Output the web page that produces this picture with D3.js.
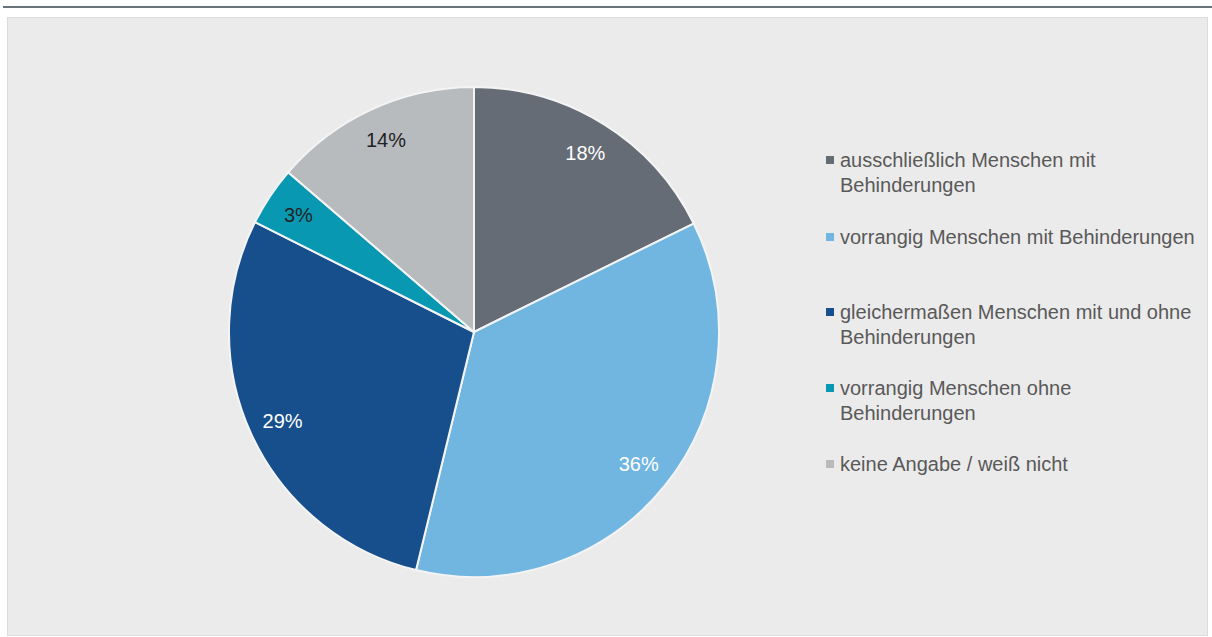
<!DOCTYPE html>
<html>
<head>
<meta charset="utf-8">
<script src="https://cdn.jsdelivr.net/npm/d3@7"></script>
<style>
  body { margin: 0; background: #fff; }
  svg { display: block; font-family: "Liberation Sans", Arial, sans-serif; }
</style>
</head>
<body>
<div id="chart"></div>
<script>
var categories = [
  ["ausschließlich Menschen mit", "Behinderungen"],
  ["vorrangig Menschen mit Behinderungen"],
  ["gleichermaßen Menschen mit und ohne", "Behinderungen"],
  ["vorrangig Menschen ohne", "Behinderungen"],
  ["keine Angabe / weiß nicht"]
];
// slice sizes (percent)
var values = [17.7, 36.1, 28.6, 3.9, 13.7];
var labels = ["18%", "36%", "29%", "3%", "14%"];
var colors = ["#656c76", "#71b6e1", "#164f8c", "#0898b2", "#b7bbbe"];
var labelColors = ["#fff", "#fff", "#fff", "#222", "#222"];

var width = 1212,
    height = 637;

var svg = d3.select("#chart")
  .append("svg")
    .attr("width", width)
    .attr("height", height);

// top rule
svg.append("rect")
  .attr("x", 3).attr("y", 6)
  .attr("width", width - 3).attr("height", 2)
  .attr("fill", "#67727a");

// panel
svg.append("rect")
  .attr("x", 7.5).attr("y", 17.5)
  .attr("width", 1200).attr("height", 618)
  .attr("fill", "#ebebeb")
  .attr("stroke", "#dcdcdc");

var cx = 474, cy = 332, radius = 245;

var g = svg.append("g")
  .attr("transform", "translate(" + cx + "," + cy + ")");

var pie = d3.pie()
  .sort(null)
  .value(function(d) { return d; });
var data_ready = pie(values);

var arc = d3.arc().innerRadius(0).outerRadius(radius);
var labelArc = d3.arc().innerRadius(211).outerRadius(211);

g.selectAll("path.slice")
  .data(data_ready)
  .enter()
  .append("path")
  .attr("class", "slice")
  .attr("d", arc)
  .attr("fill", function(d, i) { return colors[i]; })
  .attr("stroke", "#f4f4f4")
  .style("stroke-width", "2px");

g.selectAll("text.lbl")
  .data(data_ready)
  .enter()
  .append("text")
  .attr("class", "lbl")
  .attr("transform", function(d) { return "translate(" + labelArc.centroid(d) + ")"; })
  .attr("text-anchor", "middle")
  .attr("dy", "0.35em")
  .attr("fill", function(d, i) { return labelColors[i]; })
  .style("font-size", "20px")
  .text(function(d, i) { return labels[i]; });

// legend
var legendY = [160, 237, 312, 388, 464];
var legend = svg.append("g");
categories.forEach(function(lines, i) {
  var item = legend.append("g")
    .attr("transform", "translate(826," + legendY[i] + ")");
  item.append("rect")
    .attr("x", 0).attr("y", -4)
    .attr("width", 8).attr("height", 8)
    .attr("fill", colors[i]);
  var t = item.append("text")
    .attr("x", 14)
    .attr("fill", "#595959")
    .style("font-size", "20px");
  lines.forEach(function(s, j) {
    t.append("tspan")
      .attr("x", 14)
      .attr("y", j * 25)
      .attr("dy", "0.35em")
      .text(s);
  });
});
</script>
</body>
</html>
